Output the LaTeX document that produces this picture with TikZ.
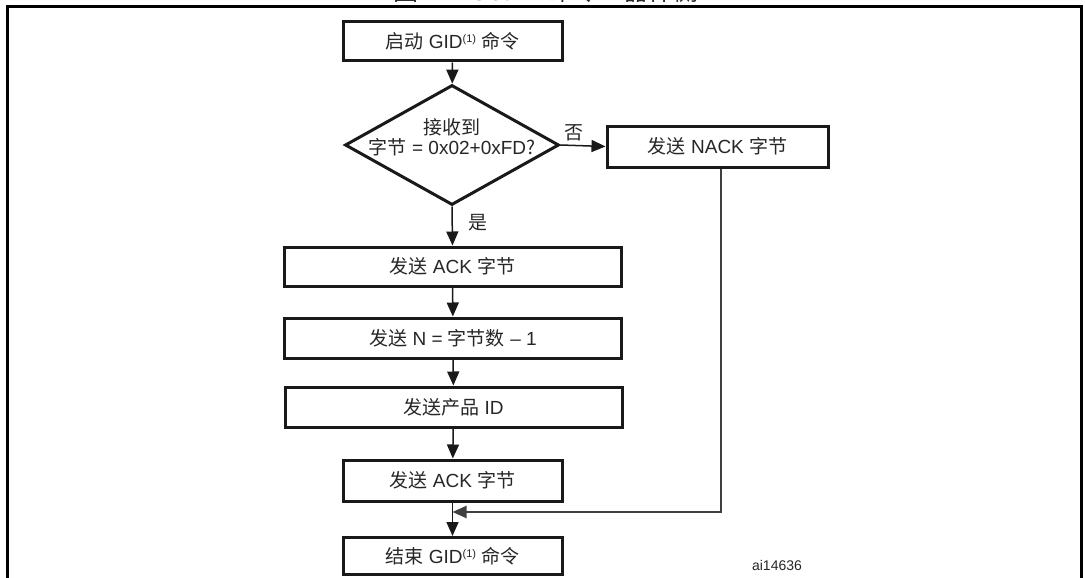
\documentclass[tikz,border=0pt]{standalone}
\usepackage{fontspec}
\setmainfont{Liberation Sans}
\newfontfamily\cjk{Noto Sans CJK SC}
\usetikzlibrary{arrows.meta,shapes.geometric}

% Chinese run inside Latin text
\newcommand{\zh}[1]{{\cjk #1}}
% footnote marker after GID
\newcommand{\noteref}{\raisebox{6pt}{\fontsize{11}{11}\selectfont(1)}}

\begin{document}
\begin{tikzpicture}[x=1pt,y=-1pt,
  txt/.style={text=black!85, font=\fontsize{19}{20}\selectfont, inner sep=0pt},
  stepbox/.style={txt, draw=black!90, line width=3pt, minimum height=40pt},
  smallbox/.style={stepbox, minimum width=219pt},
  widebox/.style={stepbox, minimum width=337pt},
  decision/.style={diamond, draw=black!90, line width=3pt, inner sep=0pt,
    minimum width=214pt, minimum height=120pt},
  tip/.style={-{Triangle[length=14pt,width=12pt]}},
  flow/.style={line width=1.5pt, draw=black!90, tip},
  side/.style={line width=2pt, draw=black!75, tip}
]
\useasboundingbox (0,0) rectangle (1085,578);

% outer frame, open at the bottom
\draw[line width=3pt] (7.5,590) -- (7.5,6.5) -- (1081,6.5) -- (1081,590);

% figure title (mostly above the page edge)
\node[anchor=base, font=\fontsize{25}{25}\selectfont, text=black!85, inner sep=0pt]
  (title) at (546,0.5) {\zh{图} 12. Get ID \zh{命令：器件侧}};

% process steps
\node[smallbox, minimum height=39pt] (start) at (452.5,41.5) {\zh{启动} GID\noteref{} \zh{命令}};
\node[decision] (dec) at (452,145) {};
\node[txt, align=center] (qtext) at (452,137.5)
  {\zh{接收到}\\\zh{字节} = 0x02+0xFD\zh{?}};
\node[stepbox, minimum width=221pt, minimum height=41pt] (nack) at (717.5,146.5)
  {\zh{发送} NACK \zh{字节}};
\node[widebox, minimum height=39pt] (ack1) at (452.5,266.5) {\zh{发送} ACK \zh{字节}};
\node[widebox] (nbytes) at (453,338) {\zh{发送} N = \zh{字节数} – 1};
\node[widebox] (pid) at (453.5,407) {\zh{发送产品} ID};
\node[smallbox, minimum height=41pt] (ack2) at (452.5,480.5) {\zh{发送} ACK \zh{字节}};
\node[smallbox, minimum height=37pt] (stop) at (452.5,556) {\zh{结束} GID\noteref{} \zh{命令}};

% branch labels
\node[txt] (no)  at (574,133) {\zh{否}};
\node[txt] (yes) at (478,223) {\zh{是}};

% drawing reference
\node[anchor=base, font=\fontsize{14}{14}\selectfont, text=black!85, inner sep=0pt]
  (ref) at (777,570) {ai14636};

% connectors
\coordinate (join) at (ack2.south |- 0,512);
\draw[flow] (start) -- (dec);
\draw[flow] (dec.east) -- (nack.west);
\draw[flow] (dec.south) -- (ack1.north);
\draw[flow] (ack1) -- (nbytes);
\draw[flow] (nbytes) -- (pid);
\draw[flow] (pid) -- (ack2);
\draw[flow] (ack2) -- (stop);
\draw[side] ([xshift=3pt]nack.south) |- (join);
\end{tikzpicture}
\end{document}
